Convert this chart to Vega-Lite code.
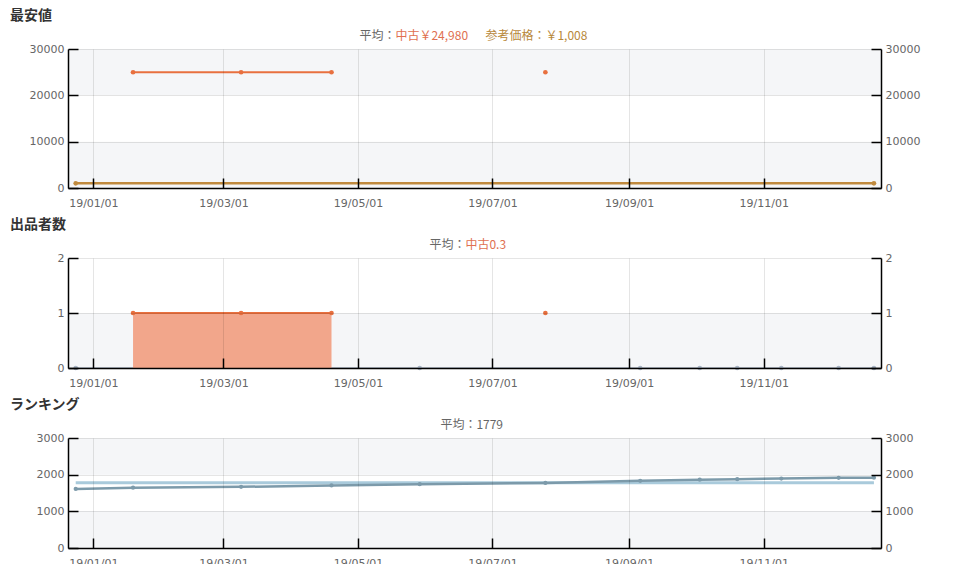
{
  "$schema": "https://vega.github.io/schema/vega-lite/v6.json",
  "padding": {"left": 10, "top": 9, "right": 5, "bottom": 0},
  "background": "white",
  "spacing": 10,
  "datasets": {
    "history": [
      {"date": "2018-12-24", "used_price": null, "ref_price": 1008, "used_count": null, "ranking": 1612},
      {"date": "2019-01-19", "used_price": 24980, "ref_price": null, "used_count": 1, "ranking": 1645},
      {"date": "2019-03-09", "used_price": 24980, "ref_price": null, "used_count": 1, "ranking": 1668},
      {"date": "2019-04-19", "used_price": 24980, "ref_price": null, "used_count": 1, "ranking": 1705},
      {"date": "2019-05-29", "used_price": null, "ref_price": null, "used_count": null, "ranking": 1740},
      {"date": "2019-07-25", "used_price": 24980, "ref_price": null, "used_count": 1, "ranking": 1776},
      {"date": "2019-09-06", "used_price": null, "ref_price": null, "used_count": null, "ranking": 1833},
      {"date": "2019-10-03", "used_price": null, "ref_price": null, "used_count": null, "ranking": 1862},
      {"date": "2019-10-20", "used_price": null, "ref_price": null, "used_count": null, "ranking": 1878},
      {"date": "2019-11-09", "used_price": null, "ref_price": null, "used_count": null, "ranking": 1893},
      {"date": "2019-12-05", "used_price": null, "ref_price": null, "used_count": null, "ranking": 1915},
      {"date": "2019-12-21", "used_price": null, "ref_price": 1008, "used_count": null, "ranking": 1918}
    ]
  },
  "config": {
    "view": {"stroke": null},
    "font": "Noto Sans CJK JP",
    "axis": {
      "labelFont": "DejaVu Sans",
      "labelFontSize": 11,
      "labelColor": "#666",
      "labelOverlap": false,
      "domainColor": "#000",
      "domainWidth": 1.5,
      "tickColor": "#000",
      "tickWidth": 1.5,
      "tickSize": -10,
      "gridColor": "#000",
      "gridOpacity": 0.1,
      "gridWidth": 1,
      "zindex": 1
    },
    "axisX": {"labelPadding": 19},
    "axisY": {"labelPadding": 14},
    "title": {
      "font": "Noto Sans CJK JP",
      "fontSize": 14,
      "fontWeight": "bold",
      "color": "#333",
      "anchor": "start",
      "frame": "group",
      "dx": -58,
      "offset": 7
    },
    "text": {"font": "Noto Sans CJK JP", "fontSize": 12, "baseline": "middle"}
  },
  "vconcat": [
    {
      "width": 813,
      "height": 139,
      "title": {"text": "最安値"},
      "layer": [
        {
          "layer": [
            {
              "data": {"values": [{}]},
              "mark": {"type": "rect", "color": "#f5f6f8"},
              "encoding": {
                "y": {"datum": 20000, "type": "quantitative", "title": null,
                  "scale": {"domain": [0, 30000], "nice": false},
                  "axis": {"tickCount": 3, "format": "d", "grid": true, "orient": "left", "zindex": 1}},
                "y2": {"datum": 30000}
              }
            },
            {
              "data": {"values": [{}]},
              "mark": {"type": "rect", "color": "#f5f6f8"},
              "encoding": {
                "y": {"datum": 0, "type": "quantitative", "title": null},
                "y2": {"datum": 10000}
              }
            },
            {
              "data": {"name": "history"},
              "transform": [{"filter": "isValid(datum.ref_price)"}],
              "mark": {"type": "line", "color": "#c08a3e", "strokeWidth": 2.5,
                "point": {"filled": true, "size": 22, "color": "#c08a3e"}},
              "encoding": {
                "x": {"field": "date", "type": "temporal", "title": null,
                  "scale": {"domain": [{"year": 2018, "month": 12, "date": 20, "hours": 12}, {"year": 2019, "month": 12, "date": 24, "hours": 5}], "nice": false},
                  "axis": {"format": "%y/%m/%d", "tickCount": {"interval": "month", "step": 2}, "grid": true, "labelFlush": false, "zindex": 1}},
                "y": {"field": "ref_price", "type": "quantitative", "title": null}
              }
            },
            {
              "data": {"name": "history"},
              "mark": {"type": "line", "color": "#e8703f", "strokeWidth": 2, "invalid": "break-paths-show-domains",
                "point": {"filled": true, "size": 22, "color": "#e8703f"}},
              "encoding": {
                "x": {"field": "date", "type": "temporal", "title": null},
                "y": {"field": "used_price", "type": "quantitative", "title": null}
              }
            },
            {
              "data": {"values": [{}]},
              "mark": {"type": "text", "text": "平均：", "align": "right", "color": "#666", "dy": -13},
              "encoding": {
                "x": {"datum": {"year": 2019, "month": 5, "date": 18}, "type": "temporal"},
                "y": {"datum": 30000, "type": "quantitative"}
              }
            },
            {
              "data": {"values": [{}]},
              "mark": {"type": "text", "text": "中古￥24,980", "align": "left", "color": "#e07050", "dy": -13},
              "encoding": {
                "x": {"datum": {"year": 2019, "month": 5, "date": 18}, "type": "temporal"},
                "y": {"datum": 30000, "type": "quantitative"}
              }
            },
            {
              "data": {"values": [{}]},
              "mark": {"type": "text", "text": "参考価格：￥1,008", "align": "left", "color": "#b8883a", "dy": -13, "dx": 90},
              "encoding": {
                "x": {"datum": {"year": 2019, "month": 5, "date": 18}, "type": "temporal"},
                "y": {"datum": 30000, "type": "quantitative"}
              }
            }
          ]
        },
        {
          "data": {"values": [{}]},
          "mark": {"type": "rule", "opacity": 0},
          "encoding": {
            "y": {"datum": 0, "type": "quantitative", "title": null,
              "scale": {"domain": [0, 30000], "nice": false},
              "axis": {"orient": "right", "tickCount": 3, "format": "d", "grid": false, "zindex": 1}}
          }
        }
      ],
      "resolve": {"scale": {"y": "independent"}}
    },
    {
      "width": 813,
      "height": 110,
      "title": {"text": "出品者数"},
      "layer": [
        {
          "layer": [
            {
              "data": {"values": [{}]},
              "mark": {"type": "rect", "color": "#f5f6f8"},
              "encoding": {
                "y": {"datum": 0, "type": "quantitative", "title": null,
                  "scale": {"domain": [0, 2], "nice": false},
                  "axis": {"tickCount": 2, "format": "d", "grid": true, "orient": "left", "zindex": 1}},
                "y2": {"datum": 1}
              }
            },
            {
              "data": {"name": "history"},
              "mark": {"type": "line", "color": "#a9b5c5", "strokeWidth": 1.5},
              "encoding": {
                "x": {"field": "date", "type": "temporal", "title": null,
                  "scale": {"domain": [{"year": 2018, "month": 12, "date": 20, "hours": 12}, {"year": 2019, "month": 12, "date": 24, "hours": 5}], "nice": false},
                  "axis": {"format": "%y/%m/%d", "tickCount": {"interval": "month", "step": 2}, "grid": true, "labelFlush": false, "zindex": 1}},
                "y": {"datum": 0, "type": "quantitative"}
              }
            },
            {
              "data": {"name": "history"},
              "transform": [{"filter": "!isValid(datum.used_count)"}],
              "mark": {"type": "point", "filled": true, "size": 22, "color": "#a9b5c5", "opacity": 1},
              "encoding": {
                "x": {"field": "date", "type": "temporal", "title": null},
                "y": {"datum": 0, "type": "quantitative"}
              }
            },
            {
              "data": {"name": "history"},
              "mark": {"type": "area", "color": "#f2a68b", "opacity": 1, "invalid": "break-paths-show-domains",
                "line": {"color": "#e8703f", "strokeWidth": 2},
                "point": {"filled": true, "size": 22, "color": "#e8703f"}},
              "encoding": {
                "x": {"field": "date", "type": "temporal", "title": null},
                "y": {"field": "used_count", "type": "quantitative", "title": null}
              }
            },
            {
              "data": {"values": [{}]},
              "mark": {"type": "text", "text": "平均：", "align": "right", "color": "#666", "dy": -13},
              "encoding": {
                "x": {"datum": {"year": 2019, "month": 6, "date": 18, "hours": 18}, "type": "temporal"},
                "y": {"datum": 2, "type": "quantitative"}
              }
            },
            {
              "data": {"values": [{}]},
              "mark": {"type": "text", "text": "中古0.3", "align": "left", "color": "#e07050", "dy": -13},
              "encoding": {
                "x": {"datum": {"year": 2019, "month": 6, "date": 18, "hours": 18}, "type": "temporal"},
                "y": {"datum": 2, "type": "quantitative"}
              }
            }
          ]
        },
        {
          "data": {"values": [{}]},
          "mark": {"type": "rule", "opacity": 0},
          "encoding": {
            "y": {"datum": 0, "type": "quantitative", "title": null,
              "scale": {"domain": [0, 2], "nice": false},
              "axis": {"orient": "right", "tickCount": 2, "format": "d", "grid": false, "zindex": 1}}
          }
        }
      ],
      "resolve": {"scale": {"y": "independent"}}
    },
    {
      "width": 813,
      "height": 110,
      "title": {"text": "ランキング"},
      "layer": [
        {
          "layer": [
            {
              "data": {"values": [{}]},
              "mark": {"type": "rect", "color": "#f5f6f8"},
              "encoding": {
                "y": {"datum": 2000, "type": "quantitative", "title": null,
                  "scale": {"domain": [0, 3000], "nice": false},
                  "axis": {"tickCount": 3, "format": "d", "grid": true, "orient": "left", "zindex": 1}},
                "y2": {"datum": 3000}
              }
            },
            {
              "data": {"values": [{}]},
              "mark": {"type": "rect", "color": "#f5f6f8"},
              "encoding": {
                "y": {"datum": 0, "type": "quantitative", "title": null},
                "y2": {"datum": 1000}
              }
            },
            {
              "data": {"name": "history"},
              "mark": {"type": "line", "color": "#a9cadb", "strokeWidth": 3},
              "encoding": {
                "x": {"field": "date", "type": "temporal", "title": null,
                  "scale": {"domain": [{"year": 2018, "month": 12, "date": 20, "hours": 12}, {"year": 2019, "month": 12, "date": 24, "hours": 5}], "nice": false},
                  "axis": {"format": "%y/%m/%d", "tickCount": {"interval": "month", "step": 2}, "grid": true, "labelFlush": false, "zindex": 1}},
                "y": {"datum": 1779, "type": "quantitative"}
              }
            },
            {
              "data": {"name": "history"},
              "mark": {"type": "line", "color": "#7c9aaa", "strokeWidth": 2.5,
                "point": {"filled": true, "size": 18, "color": "#7c9aaa"}},
              "encoding": {
                "x": {"field": "date", "type": "temporal", "title": null},
                "y": {"field": "ranking", "type": "quantitative", "title": null}
              }
            },
            {
              "data": {"values": [{}]},
              "mark": {"type": "text", "text": "平均：1779", "align": "center", "color": "#666", "dy": -13},
              "encoding": {
                "x": {"datum": {"year": 2019, "month": 6, "date": 21, "hours": 14}, "type": "temporal"},
                "y": {"datum": 3000, "type": "quantitative"}
              }
            }
          ]
        },
        {
          "data": {"values": [{}]},
          "mark": {"type": "rule", "opacity": 0},
          "encoding": {
            "y": {"datum": 0, "type": "quantitative", "title": null,
              "scale": {"domain": [0, 3000], "nice": false},
              "axis": {"orient": "right", "tickCount": 3, "format": "d", "grid": false, "zindex": 1}}
          }
        }
      ],
      "resolve": {"scale": {"y": "independent"}}
    }
  ]
}
